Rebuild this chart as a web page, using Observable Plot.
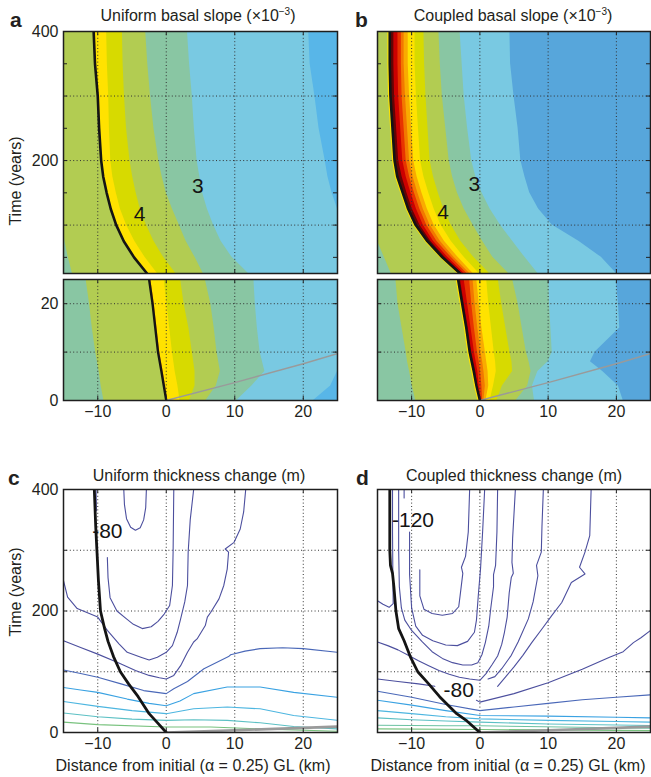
<!DOCTYPE html>
<html><head><meta charset="utf-8">
<script src="https://cdn.jsdelivr.net/npm/d3@7"></script>
<script src="https://cdn.jsdelivr.net/npm/@observablehq/plot@0.6"></script>
<style>
body{margin:0;background:#fff;}
#fig{position:relative;width:651px;height:777px;overflow:hidden;background:#fff;}
</style></head>
<body><div id="fig"></div>
<script>
const FONT = "'Liberation Sans', Arial, Helvetica, sans-serif";
const X_DOMAIN = [-15, 25];
const X_GRID = [-10, 0, 10, 20];
const X_LABELS = [-10, 0, 10, 20];
const UP_Y_LABELS = [200, 400];
const LOW_Y_LABELS = [0, 20];
const CD_Y_LABELS = [0, 200, 400];
const UP_Y_TICKS = [50, 100, 150, 200, 250, 300, 350];
const LOW_Y_TICKS = [10, 20];
const CD_Y_TICKS = [100, 200, 300];

// ---- panel a, upper (years 25-400) : band boundaries in km ----
const aUpT      = [25, 50, 75, 100, 125, 150, 175, 200, 250, 300, 350, 400];
const aUpGL     = [-2.8, -4.7, -6.2, -7.3, -8.1, -8.7, -9.2, -9.5, -9.8, -10.0, -10.4, -10.6];
const aUpYellow = [-1.3, -3.1, -4.6, -5.8, -6.7, -7.3, -7.8, -8.1, -8.3, -8.4, -8.6, -8.7];
const aUpYG     = [1.4, -0.4, -1.8, -2.9, -3.8, -4.4, -4.9, -5.3, -5.8, -6.1, -6.3, -6.4];
const aUpOlive  = [5.4, 4.2, 2.9, 1.9, 0.9, 0.0, -0.6, -1.1, -1.8, -2.3, -2.7, -3.0];
const aUpTeal   = [12.0, 9.6, 8.0, 6.9, 6.0, 5.3, 4.9, 4.5, 4.1, 3.8, 3.4, 3.1];
const aUpLB     = [25, 25, 25, 25, 25, 24.2, 23.6, 23.2, 22.3, 21.7, 21.0, 20.8];
const aUpOliveL = [-13.7, -14.3, -14.8, -15, -15, -15, -15, -15, -15, -15, -15, -15];

// ---- panel a, lower (years 0-25) ----
const aLoT      = [0, 3, 6, 10, 15, 20, 25];
const aLoGL     = [0, -0.35, -0.7, -1.2, -1.6, -2.0, -2.5];
const aLoOrange = [0.2, -0.1, -0.45, -0.95, -1.35, -1.75, -2.25];
const aLoYellow = [2.0, 1.7, 1.3, 0.9, 0.5, 0.1, -0.3];
const aLoYG     = [3.4, 4.2, 4.2, 3.8, 3.3, 2.6, 2.1];
const aLoOlive  = [5.8, 7.3, 7.9, 7.4, 7.0, 6.5, 5.7];
const aLoTeal   = [10.3, 12.5, 14.4, 13.7, 13.3, 13.0, 12.8];
const aLoLB     = [21.5, 24.0, 25, 25, 25, 25, 25];
const aLoOliveL = [-9.1, -9.5, -9.8, -10.3, -10.8, -11.2, -11.7];

// ---- panel b, upper ----
const bUpT       = [25, 50, 75, 100, 125, 150, 175, 200, 250, 300, 350, 400];
const bUpGL      = [-2.9, -5.5, -7.7, -9.4, -10.5, -11.3, -12.1, -12.5, -12.8, -13.1, -13.2, -13.2];
const bUpMaroon  = [-2.6, -5.1, -7.2, -8.8, -9.9, -10.7, -11.4, -11.9, -12.2, -12.5, -12.6, -12.6];
const bUpDarkRed = [-2.3, -4.7, -6.8, -8.3, -9.3, -10.1, -10.8, -11.3, -11.6, -11.9, -12.0, -12.0];
const bUpRed     = [-1.9, -4.2, -6.3, -7.8, -8.8, -9.6, -10.3, -10.8, -11.1, -11.4, -11.5, -11.5];
const bUpOrRed   = [-1.5, -3.8, -5.8, -7.3, -8.3, -9.1, -9.8, -10.3, -10.6, -10.9, -11.1, -11.1];
const bUpOrange  = [-1.0, -3.2, -5.2, -6.7, -7.7, -8.5, -9.2, -9.7, -10.0, -10.3, -10.5, -10.5];
const bUpYellow  = [-0.1, -2.3, -4.2, -5.7, -6.7, -7.5, -8.2, -8.7, -9.0, -9.3, -9.5, -9.5];
const bUpYG      = [1.4, -0.9, -2.8, -4.2, -5.3, -6.1, -6.8, -7.3, -7.6, -7.9, -8.1, -8.2];
const bUpOlive   = [4.2, 1.9, 0.4, -1.0, -2.3, -3.3, -4.0, -4.5, -5.0, -5.5, -5.8, -6.0];
const bUpTeal    = [8.5, 6.6, 4.8, 3.0, 1.5, 0.3, -0.6, -1.2, -1.8, -2.3, -2.6, -2.9];
const bUpLB      = [20.0, 17.8, 14.5, 10.6, 8.6, 7.3, 6.6, 6.0, 5.6, 5.0, 4.5, 4.4];
const bUpOliveL  = [-13.0, -14.0, -15, -15, -15, -15, -15, -15, -15, -15, -15, -15];

// ---- panel b, lower ----
const bLoT       = [0, 3, 6, 8, 10, 15, 20, 25];
const bLoGL      = [0, -0.5, -0.9, -1.2, -1.5, -2.0, -2.6, -3.2];
const bLoMaroon  = [0.1, -0.3, -0.6, -0.9, -1.2, -1.7, -2.3, -2.85];
const bLoDarkRed = [0.2, -0.1, -0.3, -0.55, -0.8, -1.3, -1.8, -2.3];
const bLoRed     = [0.4, 0.3, 0.1, -0.1, -0.35, -0.8, -1.2, -1.5];
const bLoOrRed   = [0.6, 0.8, 0.6, 0.4, 0.15, -0.3, -0.7, -1.0];
const bLoOrange  = [0.9, 1.3, 1.2, 1.0, 0.8, 0.3, -0.1, -0.45];
const bLoYellow  = [1.5, 2.0, 2.4, 2.3, 2.1, 1.7, 1.3, 1.0];
const bLoYG      = [2.5, 3.3, 4.8, 4.7, 4.4, 3.8, 3.2, 2.7];
const bLoOlive   = [5.3, 7.0, 7.5, 7.2, 6.8, 6.2, 5.6, 4.8];
const bLoTeal    = [8.0, 7.7, 8.5, 10.0, 10.6, 10.4, 10.2, 10.1];
const bLoLB      = [21.0, 20.3, 18.0, 16.2, 16.9, 20.5, 20.3, 20.0];
const bLoOliveL  = [-9.4, -9.9, -10.3, -10.6, -10.8, -11.4, -12.0, -12.3];

// gray line (km, years)
const grayLine = [[0, 0], [10, 3.7], [20, 7.6], [25, 9.7]];

// ---- panel c : grounding line and thickness-change contours [km, years] ----
const cGL = [[0,0],[-1.2,15],[-2.5,31],[-4.1,59],[-5.5,80],[-6.7,100],[-7.7,125],[-8.5,150],[-9.0,171],[-9.6,200],[-9.9,250],[-10.1,295],[-10.3,340],[-10.5,400]];
const cC1 = [[-6.2,400],[-6.1,375],[-5.8,352],[-5.2,338],[-4.5,333],[-3.8,337],[-3.3,350],[-3.0,370],[-2.9,400]];
const cC2a = [[-10.25,400],[-10.2,365]];
const cC2b = [[-8.6,288],[-8.5,255],[-8.2,222],[-7.2,200],[-5.8,187],[-4.8,178],[-3.5,171],[-2.2,174],[-1.2,183],[-0.3,195],[0.5,209],[0.9,242],[1.0,297],[1.1,400]];
const cC3 = [[-15,250],[-14.4,223],[-13,204],[-10,190],[-8.6,168],[-6.9,146],[-5.7,132],[-3.7,124],[-2.5,119.5],[-1.3,124],[0,132],[0.9,143],[1.6,165],[2.1,187],[2.7,215],[3.1,242],[3.2,297],[3.5,350],[4.0,400]];
const cC4 = [[-15,151],[-12.5,140],[-10,129],[-7,115],[-4.5,102],[-2.5,94],[-1,90],[0,88],[1.1,94],[2.1,110],[3.1,132],[4.0,149],[4.5,154],[5.7,176],[6.0,190],[6.5,198],[7.7,220],[8.4,242],[8.9,269],[9.1,297],[8.6,302],[9.9,313],[10.8,335],[11.3,363],[11.6,400]];
const cC5 = [[-15,103],[-12.5,97],[-10,91],[-6.6,80],[-3.3,69],[0,64],[1.1,72],[3.1,84],[5.5,105],[9.1,125],[9.4,128],[11.5,134],[13.7,138],[17,139.5],[20,138],[25,132]];
const cC6 = [[-15,74],[-12.5,70],[-10,66],[-5.7,55],[-2.5,48],[0,44],[2,52],[4.0,64],[8.9,75],[13.7,75],[18.6,66],[25,58]];
const cC7 = [[-15,51],[-10,43],[-5,36],[0,31],[4.0,39],[8.9,42],[13.7,39],[18.6,28],[25,20]];
const cC8 = [[-15,32],[-10,26],[-5,22],[0,20],[4.0,21],[8.9,20],[13.7,16],[18.6,10],[25,6]];
const cC9 = [[-15,17],[-10,13],[0,9],[6.5,9],[13.7,6],[25,2]];

// ---- panel d ----
const dGL = [[0,0],[-1.9,19],[-3.4,31],[-5.9,59],[-7.5,80],[-9.1,100],[-10.2,125],[-11.1,151],[-11.9,171],[-12.3,200],[-12.6,240],[-12.8,262],[-13.1,275],[-13.2,300],[-13.2,400]];
const dC1 = [[-8.8,268],[-8.8,225],[-8.2,203],[-7.0,196],[-5.5,193],[-4.0,196],[-3.1,207],[-2.9,225],[-2.5,262],[-2.7,272],[-2.1,290],[-1.7,330],[-1.5,400]];
const dC2a = [[-11.1,400],[-11.1,386]];
const dC2b = [[-10.3,330],[-10.3,260],[-10.0,205],[-9.4,175],[-8.4,160],[-6.9,151],[-5.0,144],[-3.3,143],[-1.8,150],[-0.8,165],[-0.5,185],[-0.2,230],[0.1,270],[0.4,330],[0.7,400]];
const dC3 = [[-11.9,400],[-11.9,300],[-11.8,240],[-11.5,205],[-11.0,185],[-10.0,168],[-8.5,150],[-7.0,133],[-5.5,122],[-4.0,115],[-2.5,111],[-1.2,111],[-0.3,115],[0.3,128],[0.8,148],[1.3,175],[1.6,205],[2.0,240],[2.0,260],[2.3,275],[2.5,330],[2.6,400]];
const dC4 = [[-15,149],[-13.5,143],[-12,136],[-10.5,127],[-9,118],[-7.5,110],[-6,102],[-4.5,96],[-3,91],[-1.5,88],[0,86],[0.9,97],[1.8,112],[2.6,126],[3.2,145],[3.6,165],[4.0,190],[4.3,230],[4.6,255],[4.9,262],[4.7,280],[4.8,320],[5.0,360],[5.2,400]];
const dC5 = [[-15,217],[-14.2,211],[-13.3,206],[-12.7,212],[-12.75,260],[-12.8,330],[-12.8,400]];
const dC6 = [[9.3,400],[9.1,340],[9.0,297],[8.3,275],[8.5,258],[7.8,215],[7.1,187],[5.6,149],[4.6,127],[3.2,105],[2.2,92],[1.2,88]];
const dC7 = [[16.3,400],[16.1,324],[15.4,297],[14.6,272],[15.4,261],[13.4,247],[12.0,214],[10.5,192],[9.2,172],[7.6,148],[6.3,127],[5.0,108],[3.8,92],[2.6,76]];
const d80a = [[-15,88],[-12,84],[-9,80],[-6.6,76]];
const d80b = [[-0.5,53],[0,50],[5,64],[10,82],[15,104],[19,124],[21,133],[22.5,148],[23.6,156],[25,168]];
const dL1 = [[-15,68],[-10,58],[-5,46],[0,36],[5,42],[10,48],[15,54],[20,58],[25,62]];
const dL2 = [[-15,53],[-10,45],[-5,36],[0,28],[10,27],[20,25],[25,24]];
const dL3 = [[-15,36],[-10,31],[-5,26],[0,22.5],[10,20],[20,18],[25,17]];
const dL4 = [[-15,24],[-10,21],[-5,19],[0,17],[10,14],[25,11.5]];
const dL5 = [[-15,12],[-5,11],[0,11],[12,9],[25,7]];
const dL6 = [[-15,6],[0,5],[25,3]];

// contour labels
const aLabels = [{x: -3.9, t: 117, s: "4"}, {x: 4.6, t: 160, s: "3"}];
const bLabels = [{x: -5.4, t: 120, s: "4"}, {x: -0.8, t: 164, s: "3"}];
const cLabels = [{x: -8.6, t: 332, s: "-80"}];
const dLabels = [{x: -9.8, t: 350, s: "-120"}, {x: -3.1, t: 70, s: "-80"}];

// ---- colours ----
const COL = {
  blueA: "#58b6e8", blueB: "#57a6db", lb: "#79c9e2", teal: "#89c6a3", olive: "#b2cc52",
  yg: "#d7da00", yellow: "#ffe200", orange: "#f9ab00", orred: "#f27800", red: "#e83400",
  darkred: "#cc0000", maroon: "#640404", gl: "#141414", gray: "#9a9a9a",
  cDark: "#4c4f9e", cMid: "#4a68b8", cLb1: "#3aa2e2", cLb2: "#4db6e0", cTeal: "#5cc0c4", cTeal2: "#6cc2a2", cGreen: "#78c27e"
};

const fig = document.getElementById("fig");
const rows = (T, L, R) => T.map((t, i) => ({t, x1: Array.isArray(L) ? L[i] : L, x2: Array.isArray(R) ? R[i] : R}));
const path = (T, X) => T.map((t, i) => [X[i], t]);
const band = (T, L, R, fill) => Plot.areaX(rows(T, L, R), {y: "t", x1: "x1", x2: "x2", fill, clip: true});
const curve = (pts, stroke, strokeWidth = 1.1, extra = {}) =>
  Plot.line(pts, {x: d => d[0], y: d => d[1], stroke, strokeWidth, clip: true, ...extra});
const labels = (data) => Plot.text(data, {x: "x", y: "t", text: "s", fontSize: 21, fill: "#141414", fontFamily: FONT});

function panel(o) {
  const ML = 45, MR = 4, MT = 4, MB = o.xLabels ? 28 : 4;
  const fw = o.w, fh = o.h;
  const dotted = {stroke: "#333", strokeWidth: 1, strokeDasharray: "1,2.4"};
  const el = Plot.plot({
    width: ML + fw + MR, height: MT + fh + MB,
    marginLeft: ML, marginRight: MR, marginTop: MT, marginBottom: MB,
    x: o.xLabels ? {domain: X_DOMAIN, ticks: o.xLabels, tickSize: 0, tickPadding: 5, label: null} : {domain: X_DOMAIN, axis: null},
    y: o.yLabels ? {domain: o.yDomain, ticks: o.yLabels, tickSize: 0, tickPadding: 5, label: null} : {domain: o.yDomain, axis: null},
    style: {fontFamily: FONT, fontSize: "16px", color: "#231f20", background: "transparent", overflow: "visible"},
    marks: [
      ...(o.fills || []),
      Plot.ruleX(X_GRID, dotted),
      Plot.ruleY(o.yGrid, dotted),
      ...(o.marks || []),
      Plot.tickY(o.yTicks, {y: d => d, insetRight: fw - 4, stroke: "#222"}),
      Plot.tickY(o.yTicks, {y: d => d, insetLeft: fw - 4, stroke: "#222"}),
      Plot.tickX(X_GRID, {x: d => d, insetTop: fh - 4, stroke: "#222"}),
      Plot.tickX(X_GRID, {x: d => d, insetBottom: fh - 4, stroke: "#222"}),
      Plot.frame({stroke: "#1e1e1e", strokeWidth: 1.5})
    ]
  });
  el.style.position = "absolute";
  el.style.left = (o.left - ML) + "px";
  el.style.top = (o.top - MT) + "px";
  fig.appendChild(el);
}

// panel a upper
panel({left: 63, top: 31, w: 274, h: 242, yDomain: [25, 400], yLabels: UP_Y_LABELS, yGrid: [100, 200, 300], yTicks: UP_Y_TICKS,
  fills: [
    Plot.frame({fill: COL.blueA, stroke: "none"}),
    band(aUpT, -15, aUpLB, COL.lb),
    band(aUpT, -15, aUpTeal, COL.teal),
    band(aUpT, aUpOliveL, aUpOlive, COL.olive),
    band(aUpT, aUpGL, aUpYG, COL.yg),
    band(aUpT, aUpGL, aUpYellow, COL.yellow)
  ],
  marks: [curve(path(aUpT, aUpGL), COL.gl, 2.6), labels(aLabels)]
});
// panel a lower
panel({left: 63, top: 279, w: 274, h: 121, yDomain: [0, 25], yLabels: LOW_Y_LABELS, xLabels: X_LABELS, yGrid: [10, 20], yTicks: LOW_Y_TICKS,
  fills: [
    Plot.frame({fill: COL.blueA, stroke: "none"}),
    band(aLoT, -15, aLoLB, COL.lb),
    band(aLoT, -15, aLoTeal, COL.teal),
    band(aLoT, aLoOliveL, aLoOlive, COL.olive),
    band(aLoT, aLoGL, aLoYG, COL.yg),
    band(aLoT, aLoGL, aLoYellow, COL.yellow),
    band(aLoT, aLoGL, aLoOrange, COL.orred)
  ],
  marks: [curve(grayLine, COL.gray, 1.4), curve(path(aLoT, aLoGL), COL.gl, 2.4)]
});
// panel b upper
panel({left: 377, top: 31, w: 273, h: 242, yDomain: [25, 400], yGrid: [100, 200, 300], yTicks: UP_Y_TICKS,
  fills: [
    Plot.frame({fill: COL.blueB, stroke: "none"}),
    band(bUpT, -15, bUpLB, COL.lb),
    band(bUpT, -15, bUpTeal, COL.teal),
    band(bUpT, bUpOliveL, bUpOlive, COL.olive),
    band(bUpT, bUpGL, bUpYG, COL.yg),
    band(bUpT, bUpGL, bUpYellow, COL.yellow),
    band(bUpT, bUpGL, bUpOrange, COL.orange),
    band(bUpT, bUpGL, bUpOrRed, COL.orred),
    band(bUpT, bUpGL, bUpRed, COL.red),
    band(bUpT, bUpGL, bUpDarkRed, COL.darkred),
    band(bUpT, bUpGL, bUpMaroon, COL.maroon)
  ],
  marks: [curve(path(bUpT, bUpGL), COL.yellow, 1.3, {dx: -1.8}), curve(path(bUpT, bUpGL), COL.gl, 2.6), labels(bLabels)]
});
// panel b lower
panel({left: 377, top: 279, w: 273, h: 121, yDomain: [0, 25], xLabels: X_LABELS, yGrid: [10, 20], yTicks: LOW_Y_TICKS,
  fills: [
    Plot.frame({fill: COL.blueB, stroke: "none"}),
    band(bLoT, -15, bLoLB, COL.lb),
    band(bLoT, -15, bLoTeal, COL.teal),
    band(bLoT, bLoOliveL, bLoOlive, COL.olive),
    band(bLoT, bLoGL, bLoYG, COL.yg),
    band(bLoT, bLoGL, bLoYellow, COL.yellow),
    band(bLoT, bLoGL, bLoOrange, COL.orange),
    band(bLoT, bLoGL, bLoOrRed, COL.orred),
    band(bLoT, bLoGL, bLoRed, COL.red),
    band(bLoT, bLoGL, bLoDarkRed, COL.darkred),
    band(bLoT, bLoGL, bLoMaroon, COL.maroon)
  ],
  marks: [curve(grayLine, COL.gray, 1.4), curve(path(bLoT, bLoGL), COL.yellow, 1.3, {dx: -1.8}), curve(path(bLoT, bLoGL), COL.gl, 2.4)]
});
// panel c
panel({left: 63, top: 489, w: 274, h: 243, yDomain: [0, 400], yLabels: CD_Y_LABELS, xLabels: X_LABELS, yGrid: [100, 200, 300], yTicks: CD_Y_TICKS,
  marks: [
    curve(cC9, COL.cGreen), curve(cC8, COL.cTeal), curve(cC7, COL.cLb2), curve(cC6, COL.cLb1), curve(cC5, COL.cMid),
    curve(cC4, COL.cDark), curve(cC3, COL.cDark), curve(cC2a, COL.cDark), curve(cC2b, COL.cDark), curve(cC1, COL.cDark),
    curve(grayLine, COL.gray, 2.6),
    curve(cGL, COL.gl, 2.8),
    labels(cLabels)
  ]
});
// panel d
panel({left: 377, top: 489, w: 273, h: 243, yDomain: [0, 400], xLabels: X_LABELS, yGrid: [100, 200, 300], yTicks: CD_Y_TICKS,
  marks: [
    curve(dL6, COL.cGreen), curve(dL5, COL.cTeal2), curve(dL4, COL.cTeal), curve(dL3, COL.cLb2), curve(dL2, COL.cLb1), curve(dL1, COL.cMid),
    curve(d80a, COL.cDark), curve(d80b, COL.cDark),
    curve(dC7, COL.cDark), curve(dC6, COL.cDark), curve(dC5, COL.cDark), curve(dC4, COL.cDark), curve(dC3, COL.cDark),
    curve(dC2a, COL.cDark), curve(dC2b, COL.cDark), curve(dC1, COL.cDark),
    curve(grayLine, COL.gray, 2.6),
    curve(dGL, COL.gl, 2.8),
    labels(dLabels)
  ]
});

// ---- text around the panels ----
const ov = d3.select(fig).append("svg")
  .attr("width", 651).attr("height", 777)
  .style("position", "absolute").style("left", "0px").style("top", "0px")
  .style("font-family", FONT).attr("fill", "#231f20");

function letter(x, y, s) {
  ov.append("text").attr("x", x).attr("y", y).attr("font-size", 21).attr("font-weight", "bold").text(s);
}
function title(cx, cy, main, sup) {
  const t = ov.append("text").attr("x", cx).attr("y", cy).attr("dy", "0.35em").attr("text-anchor", "middle").attr("font-size", 16);
  t.append("tspan").text(main);
  if (sup) {
    t.append("tspan").attr("font-size", 10).attr("dy", -6).text(sup);
    t.append("tspan").attr("dy", 6).text(")");
  }
}
function vlabel(cx, cy, s) {
  ov.append("text").attr("transform", `translate(${cx},${cy}) rotate(-90)`).attr("dy", "0.35em")
    .attr("text-anchor", "middle").attr("font-size", 16).text(s);
}
letter(10, 27, "a");
letter(355, 27, "b");
letter(8, 485, "c");
letter(356, 485, "d");
title(198, 15.5, "Uniform basal slope (×10", "−3");
title(513, 15.5, "Coupled basal slope (×10", "−3");
title(199, 475, "Uniform thickness change (m)");
title(514, 475, "Coupled thickness change (m)");
vlabel(15, 181, "Time (years)");
vlabel(15, 592, "Time (years)");
title(193, 765, "Distance from initial (α = 0.25) GL (km)");
title(508, 765, "Distance from initial (α = 0.25) GL (km)");
</script>
</body></html>
